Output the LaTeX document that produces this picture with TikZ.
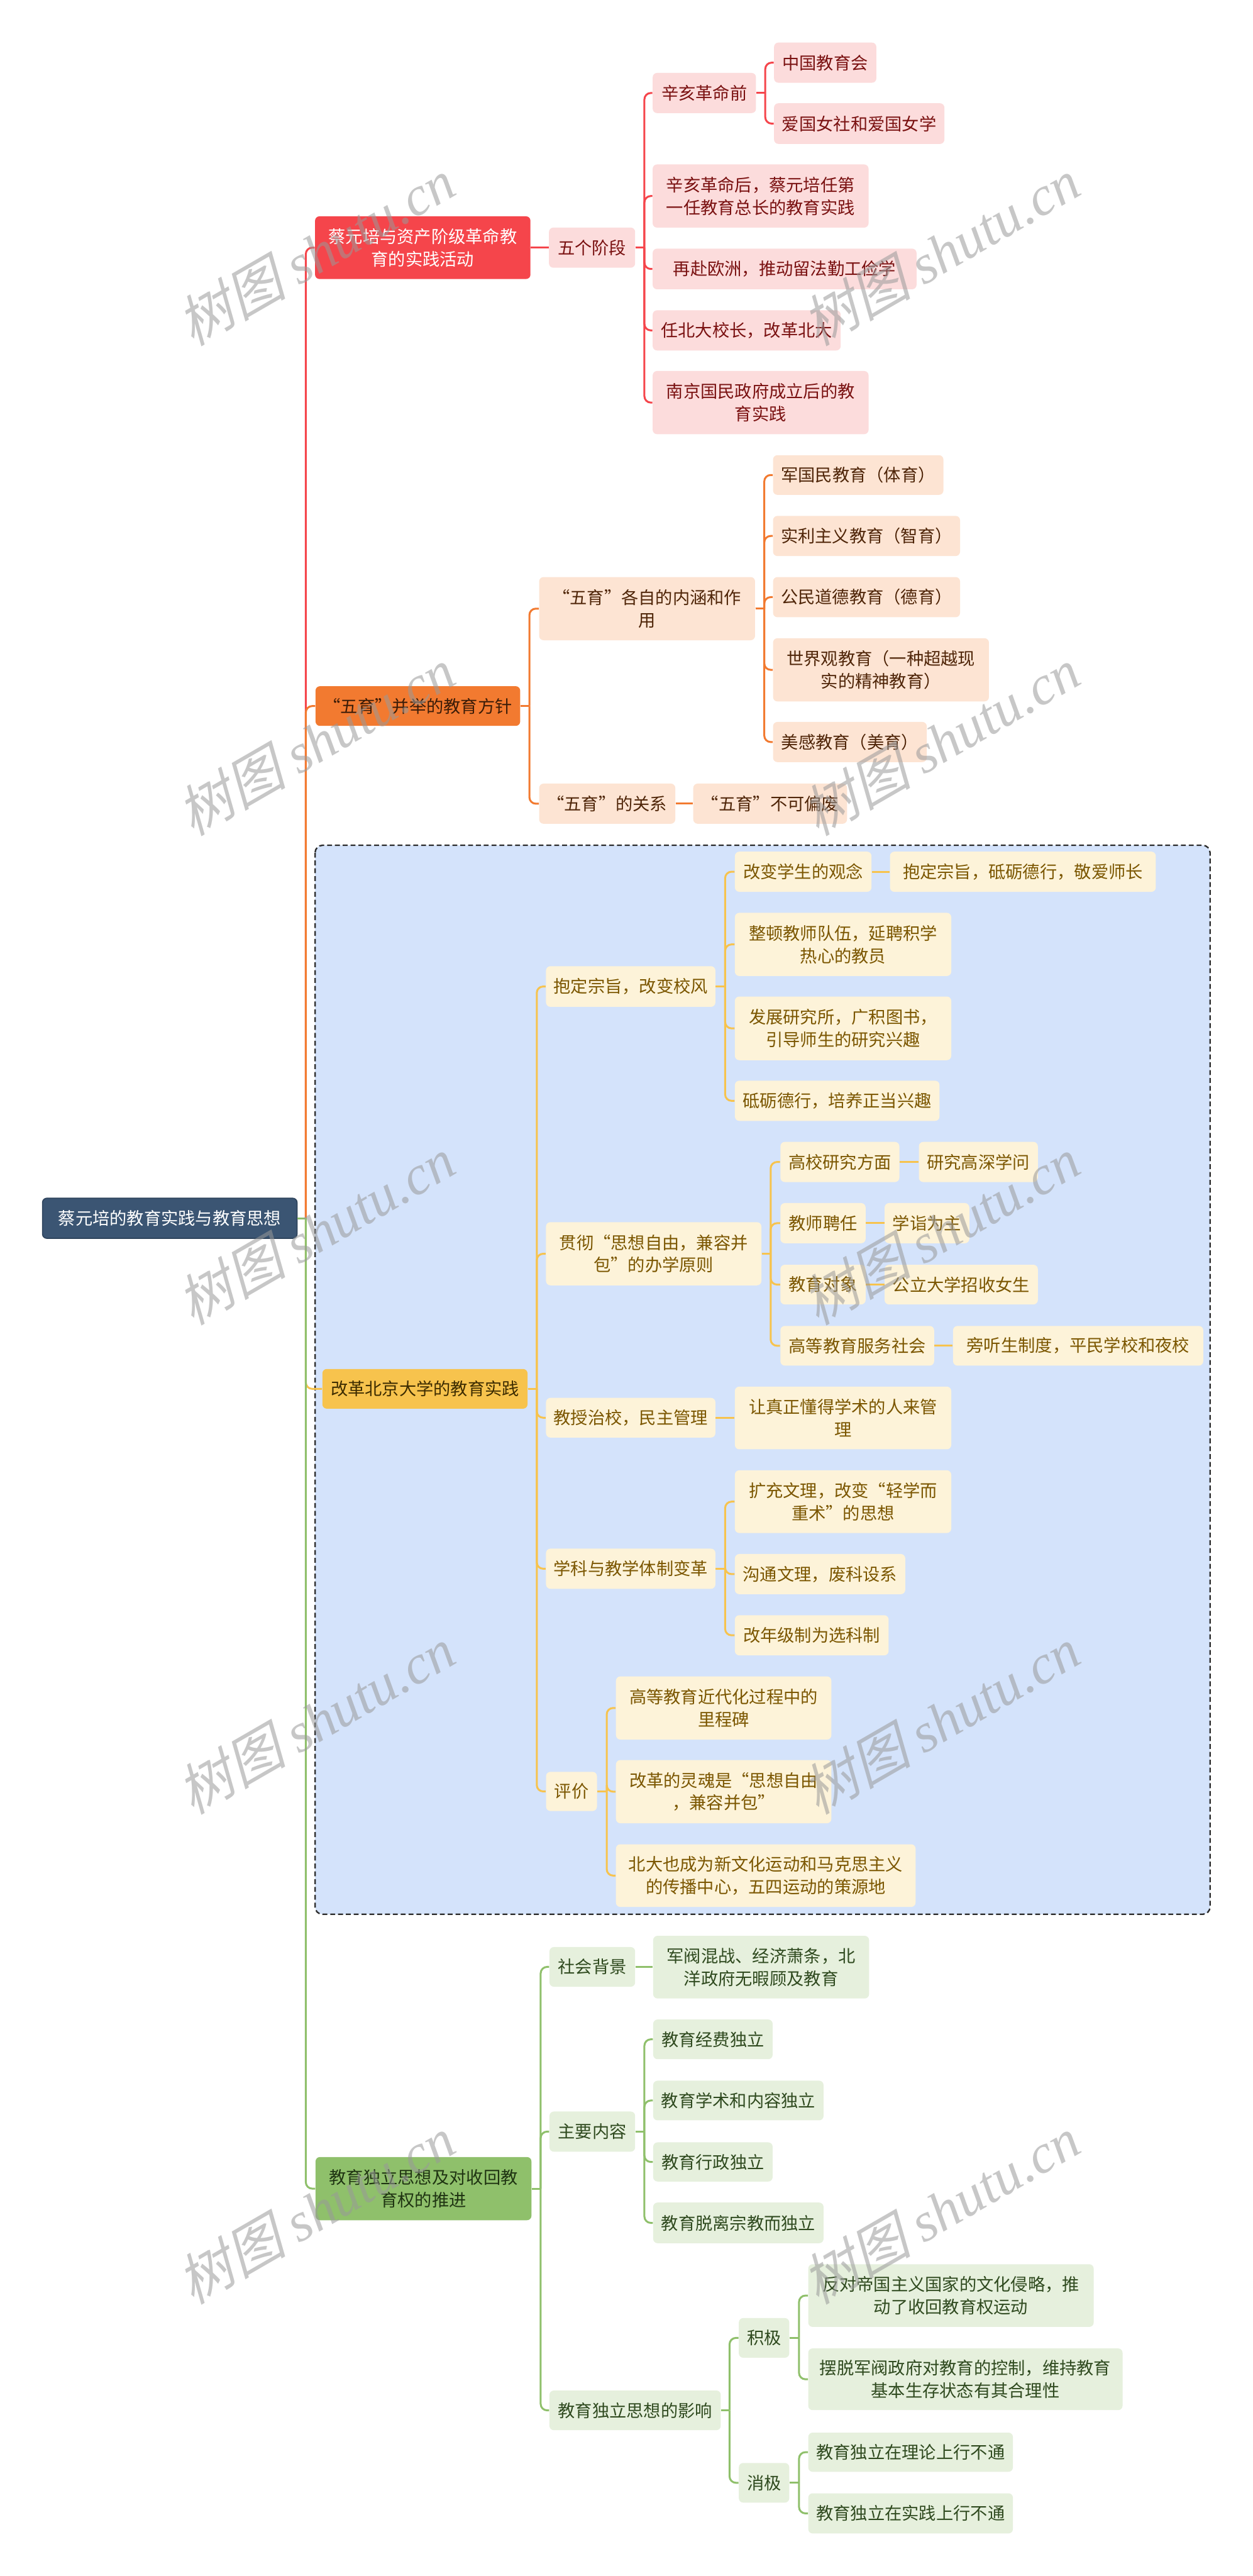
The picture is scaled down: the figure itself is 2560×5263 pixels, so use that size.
\documentclass[tikz,border=0pt]{standalone}
\usepackage{fontspec}
\setmainfont{Noto Sans CJK SC}
\newfontfamily\wmcjk[FakeSlant=0.25]{Noto Sans CJK SC}
\newfontfamily\wmlat{Liberation Serif}
\usetikzlibrary{calc}
\definecolor{rootc}{HTML}{3B5573}
\definecolor{rootd}{HTML}{2D435C}
\definecolor{redm}{HTML}{F5454B}
\definecolor{redl}{HTML}{FCDCDC}
\definecolor{redt}{HTML}{7A1111}
\definecolor{orm}{HTML}{F27A30}
\definecolor{ordk}{HTML}{3B1C08}
\definecolor{orl}{HTML}{FDE4D3}
\definecolor{ort}{HTML}{4F2508}
\definecolor{yem}{HTML}{F7C34D}
\definecolor{yedk}{HTML}{3D2C00}
\definecolor{yel}{HTML}{FDF3D9}
\definecolor{yet}{HTML}{7B5600}
\definecolor{grm}{HTML}{8FC06B}
\definecolor{grdk}{HTML}{1F3412}
\definecolor{grl}{HTML}{E6F0DD}
\definecolor{grt}{HTML}{2F4A1F}
\definecolor{grpfill}{HTML}{D4E3FB}
\definecolor{grpdraw}{HTML}{2B2B2B}
\newcommand\bx[7]{%
  \pgfmathsetmacro\bxw{(#5-#3)/100}%
  \pgfmathsetmacro\bxh{(#6-#4)/100}%
  \node[#2, minimum width=\bxw cm, minimum height=\bxh cm] (#1) at ({(#3+#5)/2},{(#4+#6)/2}) {#7};}
\newcommand\st[3]{\draw[conn,#1] (#2.east) -- (#2.east -| #3.west);}
\newcommand\el[4]{\draw[conn,#1] (#2.east) -- (#2.east -| #4);
  \draw[conn,#1,rounded corners=0.13cm] (#2.east -| #4) |- (#3.west);}
\begin{document}
\begin{tikzpicture}[x=0.01cm,y=-0.01cm,
  base/.style={rounded corners=0.09cm, inner sep=0pt, align=center, font=\fontsize{9.96pt}{13.1pt}\selectfont},
  rootbox/.style={base, fill=rootc, draw=rootd, line width=0.6pt, text=white},
  bred/.style={base, fill=redm, text=white},
  kred/.style={base, fill=redl, text=redt},
  bor/.style={base, fill=orm, text=ordk},
  kor/.style={base, fill=orl, text=ort},
  bye/.style={base, fill=yem, text=yedk},
  kye/.style={base, fill=yel, text=yet},
  bgr/.style={base, fill=grm, text=grdk},
  kgr/.style={base, fill=grl, text=grt},
  conn/.style={line width=1.1pt},
  wm/.style={text=black!40, text opacity=0.55, rotate=30, inner sep=0pt, font=\fontsize{32pt}{36pt}\selectfont}
]
\useasboundingbox[fill=white] (0,0) rectangle (2560,5263);
% group box
\draw[fill=grpfill, draw=grpdraw, line width=0.85pt, dash pattern=on 0.1cm off 0.06cm, rounded corners=0.15cm] (644,1727) rectangle (2473,3911);
% trunk coordinates
\coordinate (sp) at (625,0);
\coordinate (twg) at (1317,0);
\coordinate (txh) at (1564,0);
\coordinate (tbb) at (1082,0);
\coordinate (tnh) at (1562,0);
\coordinate (tbc) at (1097,0);
\coordinate (tbd) at (1482,0);
\coordinate (tgc) at (1575,0);
\coordinate (txk) at (1482,0);
\coordinate (tpj) at (1240,0);
\coordinate (tbe) at (1105,0);
\coordinate (tzy) at (1317,0);
\coordinate (tyx) at (1491,0);
\coordinate (tjj) at (1633,0);
\coordinate (txj) at (1633,0);
% nodes
\bx{root}{rootbox}{87}{2448}{607}{2530}{蔡元培的教育实践与教育思想}
% branch 1
\bx{ba}{bred}{644}{442}{1084}{570}{蔡元培与资产阶级革命教\\育的实践活动}
\bx{wgjd}{kred}{1122}{465}{1298}{547}{五个阶段}
\bx{xhq}{kred}{1334}{149}{1545}{231}{辛亥革命前}
\bx{zgjy}{kred}{1582}{87}{1791}{169}{中国教育会}
\bx{agns}{kred}{1582}{211}{1930}{294}{爱国女社和爱国女学}
\bx{xhh}{kred}{1334}{336}{1775}{465}{辛亥革命后，蔡元培任第\\一任教育总长的教育实践}
\bx{zfoz}{kred}{1334}{508}{1873}{591}{再赴欧洲，推动留法勤工俭学}
\bx{rbd}{kred}{1334}{634}{1718}{716}{任北大校长，改革北大}
\bx{njgm}{kred}{1334}{758}{1775}{887}{南京国民政府成立后的教\\育实践}
% branch 2
\bx{bb}{bor}{645}{1402}{1063}{1483}{“五育”并举的教育方针}
\bx{onh}{kor}{1102}{1179}{1543}{1308}{“五育”各自的内涵和作\\用}
\bx{ojg}{kor}{1580}{930}{1928}{1011}{军国民教育（体育）}
\bx{osl}{kor}{1580}{1054}{1962}{1136}{实利主义教育（智育）}
\bx{ogm}{kor}{1580}{1179}{1962}{1261}{公民道德教育（德育）}
\bx{osj}{kor}{1580}{1304}{2021}{1433}{世界观教育（一种超越现\\实的精神教育）}
\bx{omg}{kor}{1580}{1475}{1894}{1557}{美感教育（美育）}
\bx{ogx}{kor}{1102}{1601}{1380}{1683}{“五育”的关系}
\bx{obk}{kor}{1417}{1601}{1731}{1683}{“五育”不可偏废}
% branch 3
\bx{bc}{bye}{659}{2797}{1078}{2878}{改革北京大学的教育实践}
\bx{ybd}{kye}{1116}{1974}{1462}{2057}{抱定宗旨，改变校风}
\bx{ygb}{kye}{1502}{1740}{1781}{1822}{改变学生的观念}
\bx{yja}{kye}{1819}{1740}{2362}{1822}{抱定宗旨，砥砺德行，敬爱师长}
\bx{yzd}{kye}{1502}{1865}{1944}{1994}{整顿教师队伍，延聘积学\\热心的教员}
\bx{yfz}{kye}{1502}{2036}{1944}{2166}{发展研究所，广积图书，\\引导师生的研究兴趣}
\bx{ydx}{kye}{1502}{2208}{1920}{2290}{砥砺德行，培养正当兴趣}
\bx{ygc}{kye}{1116}{2497}{1556}{2626}{贯彻“思想自由，兼容并\\包”的办学原则}
\bx{ygx}{kye}{1595}{2333}{1838}{2415}{高校研究方面}
\bx{ygs}{kye}{1878}{2333}{2121}{2415}{研究高深学问}
\bx{yjp}{kye}{1595}{2458}{1769}{2540}{教师聘任}
\bx{yxz}{kye}{1808}{2458}{1981}{2540}{学诣为主}
\bx{ydo}{kye}{1595}{2584}{1769}{2665}{教育对象}
\bx{ygl}{kye}{1808}{2584}{2121}{2665}{公立大学招收女生}
\bx{yfw}{kye}{1595}{2709}{1909}{2790}{高等教育服务社会}
\bx{ypt}{kye}{1948}{2709}{2459}{2790}{旁听生制度，平民学校和夜校}
\bx{yjs}{kye}{1116}{2856}{1462}{2937}{教授治校，民主管理}
\bx{yrz}{kye}{1502}{2833}{1944}{2961}{让真正懂得学术的人来管\\理}
\bx{yxk}{kye}{1116}{3164}{1462}{3246}{学科与教学体制变革}
\bx{ykc}{kye}{1502}{3004}{1944}{3132}{扩充文理，改变“轻学而\\重术”的思想}
\bx{ygt}{kye}{1502}{3175}{1850}{3257}{沟通文理，废科设系}
\bx{ynj}{kye}{1502}{3300}{1816}{3382}{改年级制为选科制}
\bx{ypj}{kye}{1116}{3620}{1220}{3700}{评价}
\bx{ylc}{kye}{1259}{3425}{1699}{3554}{高等教育近代化过程中的\\里程碑}
\bx{ylh}{kye}{1259}{3596}{1699}{3725}{改革的灵魂是“思想自由\\，兼容并包”}
\bx{ybj}{kye}{1259}{3768}{1871}{3896}{北大也成为新文化运动和马克思主义\\的传播中心，五四运动的策源地}
% branch 4
\bx{bd}{bgr}{645}{4407}{1086}{4536}{教育独立思想及对收回教\\育权的推进}
\bx{gsh}{kgr}{1123}{3978}{1298}{4059}{社会背景}
\bx{gjz}{kgr}{1335}{3955}{1776}{4083}{军阀混战、经济萧条，北\\洋政府无暇顾及教育}
\bx{gzy}{kgr}{1123}{4314}{1298}{4396}{主要内容}
\bx{gjf}{kgr}{1335}{4126}{1579}{4207}{教育经费独立}
\bx{gxs}{kgr}{1335}{4251}{1683}{4332}{教育学术和内容独立}
\bx{gxz}{kgr}{1335}{4377}{1579}{4457}{教育行政独立}
\bx{gtl}{kgr}{1335}{4500}{1683}{4583}{教育脱离宗教而独立}
\bx{gyx}{kgr}{1123}{4884}{1473}{4965}{教育独立思想的影响}
\bx{gjj}{kgr}{1510}{4736}{1613}{4817}{积极}
\bx{gfd}{kgr}{1652}{4626}{2235}{4754}{反对帝国主义国家的文化侵略，推\\动了收回教育权运动}
\bx{gbt}{kgr}{1652}{4798}{2294}{4924}{摆脱军阀政府对教育的控制，维持教育\\基本生存状态有其合理性}
\bx{gxj}{kgr}{1510}{5032}{1613}{5113}{消极}
\bx{gll}{kgr}{1652}{4970}{2070}{5050}{教育独立在理论上行不通}
\bx{gsj}{kgr}{1652}{5094}{2070}{5176}{教育独立在实践上行不通}
% root connectors
\el{redm}{root}{ba}{sp}
\el{orm}{root}{bb}{sp}
\el{yem}{root}{bc}{sp}
\el{grm}{root}{bd}{sp}
% branch 1 connectors
\st{redm}{ba}{wgjd}
\el{redm}{wgjd}{xhq}{twg}
\el{redm}{wgjd}{xhh}{twg}
\el{redm}{wgjd}{zfoz}{twg}
\el{redm}{wgjd}{rbd}{twg}
\el{redm}{wgjd}{njgm}{twg}
\el{redm}{xhq}{zgjy}{txh}
\el{redm}{xhq}{agns}{txh}
% branch 2 connectors
\el{orm}{bb}{onh}{tbb}
\el{orm}{bb}{ogx}{tbb}
\el{orm}{onh}{ojg}{tnh}
\el{orm}{onh}{osl}{tnh}
\el{orm}{onh}{ogm}{tnh}
\el{orm}{onh}{osj}{tnh}
\el{orm}{onh}{omg}{tnh}
\st{orm}{ogx}{obk}
% branch 3 connectors
\el{yem}{bc}{ybd}{tbc}
\el{yem}{bc}{ygc}{tbc}
\el{yem}{bc}{yjs}{tbc}
\el{yem}{bc}{yxk}{tbc}
\el{yem}{bc}{ypj}{tbc}
\el{yem}{ybd}{ygb}{tbd}
\el{yem}{ybd}{yzd}{tbd}
\el{yem}{ybd}{yfz}{tbd}
\el{yem}{ybd}{ydx}{tbd}
\st{yem}{ygb}{yja}
\el{yem}{ygc}{ygx}{tgc}
\el{yem}{ygc}{yjp}{tgc}
\el{yem}{ygc}{ydo}{tgc}
\el{yem}{ygc}{yfw}{tgc}
\st{yem}{ygx}{ygs}
\st{yem}{yjp}{yxz}
\st{yem}{ydo}{ygl}
\st{yem}{yfw}{ypt}
\st{yem}{yjs}{yrz}
\el{yem}{yxk}{ykc}{txk}
\el{yem}{yxk}{ygt}{txk}
\el{yem}{yxk}{ynj}{txk}
\el{yem}{ypj}{ylc}{tpj}
\el{yem}{ypj}{ylh}{tpj}
\el{yem}{ypj}{ybj}{tpj}
% branch 4 connectors
\el{grm}{bd}{gsh}{tbe}
\el{grm}{bd}{gzy}{tbe}
\el{grm}{bd}{gyx}{tbe}
\st{grm}{gsh}{gjz}
\el{grm}{gzy}{gjf}{tzy}
\el{grm}{gzy}{gxs}{tzy}
\el{grm}{gzy}{gxz}{tzy}
\el{grm}{gzy}{gtl}{tzy}
\el{grm}{gyx}{gjj}{tyx}
\el{grm}{gyx}{gxj}{tyx}
\el{grm}{gjj}{gfd}{tjj}
\el{grm}{gjj}{gbt}{tjj}
\el{grm}{gxj}{gll}{txj}
\el{grm}{gxj}{gsj}{txj}
% watermarks
\foreach \i/\wx/\wy in {1/645/515,2/1922/515,3/645/1515,4/1922/1515,5/645/2515,6/1922/2515,7/645/3515,8/1922/3515,9/645/4515,10/1922/4515}{
  \node[wm] (wm\i) at (\wx,\wy) {{\wmcjk 树图}\ {\wmlat\itshape shutu.cn}};
}
\end{tikzpicture}
\end{document}
